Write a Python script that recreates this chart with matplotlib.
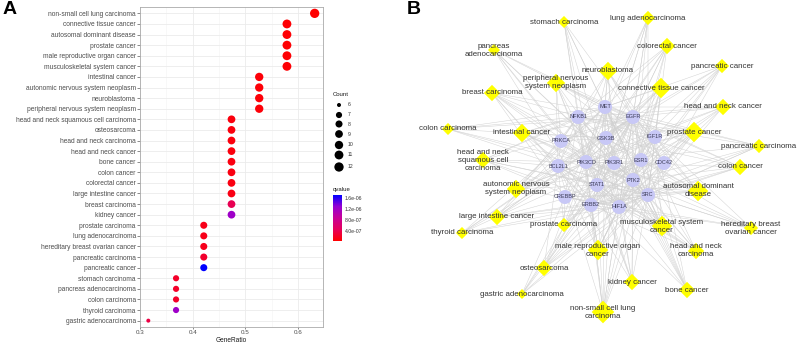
import matplotlib.pyplot as plt
from matplotlib.patches import Polygon, Circle
from matplotlib.colors import LinearSegmentedColormap, Normalize
from matplotlib.colorbar import ColorbarBase

plt.rcParams['font.family'] = ['Liberation Sans', 'DejaVu Sans']

# ---- data (panel A) ----
terms = ['non-small cell lung carcinoma', 'connective tissue cancer', 'autosomal dominant disease',
         'prostate cancer', 'male reproductive organ cancer', 'musculoskeletal system cancer',
         'intestinal cancer', 'autonomic nervous system neoplasm', 'neuroblastoma',
         'peripheral nervous system neoplasm', 'head and neck squamous cell carcinoma', 'osteosarcoma',
         'head and neck carcinoma', 'head and neck cancer', 'bone cancer', 'colon cancer',
         'colorectal cancer', 'large intestine cancer', 'breast carcinoma', 'kidney cancer',
         'prostate carcinoma', 'lung adenocarcinoma', 'hereditary breast ovarian cancer',
         'pancreatic carcinoma', 'pancreatic cancer', 'stomach carcinoma', 'pancreas adenocarcinoma',
         'colon carcinoma', 'thyroid carcinoma', 'gastric adenocarcinoma']
counts = [12, 11, 11, 11, 11, 11, 10, 10, 10, 10, 9, 9, 9, 9, 9, 9, 9, 9, 9, 9,
          8, 8, 8, 8, 8, 7, 7, 7, 7, 6]
qvalues = [4e-8, 6e-8, 6e-8, 5e-8, 5e-8, 6e-8, 8e-8, 8e-8, 8e-8, 8e-8,
           1.0e-7, 1.0e-7, 1.0e-7, 1.0e-7, 1.1e-7, 1.2e-7, 1.2e-7, 1.3e-7, 4.2e-7, 1.22e-6,
           1.6e-7, 1.6e-7, 1.7e-7, 2.5e-7, 1.71e-6, 2.3e-7, 2.3e-7, 2.3e-7, 1.22e-6, 3.5e-7]
n_genes = 19  # denominador del GeneRatio

# ---- data (panel B) ----
genes = ['MET', 'NFKB1', 'EGFR', 'PRKCA', 'GSK3B', 'IGF1R', 'BCL2L1', 'PIK3CD', 'PIK3R1',
         'ESR1', 'CDC42', 'STAT1', 'PTK2', 'SRC', 'CREBBP', 'ERBB2', 'HIF1A']
gene_x = [605, 578, 633, 561, 606, 655, 558, 586, 614, 641, 664, 597, 633, 648, 565, 591, 619]
gene_y = [107, 117, 117, 141, 138, 137, 166, 162, 163, 160, 163, 185, 180, 195, 197, 205, 207]

node_x = [603, 661, 698, 694, 598, 662, 522, 516, 608, 556, 483, 544, 696, 723, 687, 740,
          667, 497, 492, 632, 564, 648, 751, 759, 722, 564, 494, 448, 462, 522]
node_y = [312, 88, 191, 132, 250, 226, 133, 189, 71, 83, 160, 268, 251, 107, 290, 167,
          46, 217, 93, 282, 225, 18, 228, 146, 66, 22, 50, 129, 233, 294]
node_labels = ['non-small cell lung\ncarcinoma', 'connective tissue cancer', 'autosomal dominant\ndisease',
               'prostate cancer', 'male reproductive organ\ncancer', 'musculoskeletal system\ncancer',
               'intestinal cancer', 'autonomic nervous\nsystem neoplasm', 'neuroblastoma',
               'peripheral nervous\nsystem neoplasm', 'head and neck\nsquamous cell\ncarcinoma', 'osteosarcoma',
               'head and neck\ncarcinoma', 'head and neck cancer', 'bone cancer', 'colon cancer',
               'colorectal cancer', 'large intestine cancer', 'breast carcinoma', 'kidney cancer',
               'prostate carcinoma', 'lung adenocarcinoma', 'hereditary breast\novarian cancer',
               'pancreatic carcinoma', 'pancreatic cancer', 'stomach carcinoma', 'pancreas\nadenocarcinoma',
               'colon carcinoma', 'thyroid carcinoma', 'gastric adenocarcinoma']
# genes de cada enfermedad (mismo orden que terms)
term_genes = [
    'EGFR MET ERBB2 PIK3R1 PIK3CD SRC PTK2 IGF1R HIF1A STAT1 BCL2L1 NFKB1',
    'MET EGFR IGF1R SRC PTK2 PIK3CD PIK3R1 HIF1A BCL2L1 GSK3B ESR1',
    'EGFR MET ERBB2 CREBBP PIK3R1 PIK3CD ESR1 GSK3B SRC STAT1 IGF1R',
    'EGFR ERBB2 IGF1R ESR1 SRC PTK2 HIF1A NFKB1 PIK3CD CDC42 BCL2L1',
    'EGFR ERBB2 IGF1R ESR1 SRC PTK2 HIF1A NFKB1 PIK3CD CDC42 BCL2L1',
    'MET EGFR IGF1R SRC PTK2 PIK3CD PIK3R1 HIF1A BCL2L1 GSK3B STAT1',
    'EGFR MET ERBB2 PIK3CD PIK3R1 SRC PTK2 HIF1A GSK3B NFKB1',
    'MET EGFR IGF1R PIK3CD PIK3R1 STAT1 HIF1A BCL2L1 CDC42 PRKCA',
    'MET EGFR IGF1R PIK3CD PIK3R1 STAT1 HIF1A BCL2L1 CDC42 PRKCA',
    'MET EGFR IGF1R PIK3CD PIK3R1 STAT1 HIF1A BCL2L1 CDC42 PRKCA',
    'EGFR MET ERBB2 PIK3CD SRC STAT1 HIF1A BCL2L1 NFKB1',
    'MET EGFR IGF1R SRC PTK2 PIK3R1 HIF1A BCL2L1 GSK3B',
    'EGFR MET ERBB2 PIK3CD SRC STAT1 HIF1A BCL2L1 NFKB1',
    'EGFR MET ERBB2 PIK3CD SRC STAT1 HIF1A BCL2L1 NFKB1',
    'MET EGFR IGF1R SRC PTK2 PIK3R1 HIF1A BCL2L1 GSK3B',
    'EGFR MET ERBB2 PIK3CD SRC PTK2 HIF1A GSK3B NFKB1',
    'EGFR MET ERBB2 PIK3CD SRC PTK2 HIF1A GSK3B NFKB1',
    'EGFR MET ERBB2 PIK3CD SRC PTK2 HIF1A GSK3B NFKB1',
    'ESR1 ERBB2 EGFR IGF1R SRC PIK3CD PIK3R1 CREBBP BCL2L1',
    'MET EGFR HIF1A SRC PIK3CD PTK2 STAT1 BCL2L1 NFKB1',
    'EGFR ERBB2 IGF1R ESR1 SRC PIK3CD CREBBP BCL2L1',
    'EGFR MET ERBB2 PIK3CD SRC PTK2 STAT1 HIF1A',
    'ESR1 ERBB2 EGFR PIK3CD PIK3R1 CREBBP SRC BCL2L1',
    'EGFR MET ERBB2 PIK3CD SRC PTK2 HIF1A NFKB1',
    'EGFR MET ERBB2 PIK3R1 SRC PTK2 HIF1A GSK3B',
    'EGFR MET ERBB2 PIK3CD SRC HIF1A STAT1',
    'EGFR MET ERBB2 PIK3CD SRC PTK2 HIF1A',
    'EGFR MET PIK3CD SRC PTK2 GSK3B NFKB1',
    'MET EGFR PIK3CD PIK3R1 SRC BCL2L1 HIF1A',
    'EGFR MET ERBB2 SRC HIF1A STAT1',
]
# interacciones gen-gen: el primero conecta con el resto
gene_links = [
    'EGFR MET ERBB2 SRC PTK2 PIK3R1 PIK3CD STAT1 IGF1R ESR1 CDC42 PRKCA GSK3B NFKB1 HIF1A CREBBP BCL2L1',
    'SRC MET ERBB2 PTK2 PIK3R1 STAT1 IGF1R ESR1 CDC42 PRKCA HIF1A CREBBP NFKB1',
    'PIK3R1 MET ERBB2 PTK2 IGF1R ESR1 CDC42 PIK3CD GSK3B STAT1',
    'STAT1 NFKB1 CREBBP HIF1A ERBB2 MET ESR1',
    'HIF1A CREBBP NFKB1 GSK3B ESR1 BCL2L1 PIK3CD',
    'NFKB1 PRKCA BCL2L1 CREBBP GSK3B',
    'ESR1 IGF1R CREBBP GSK3B ERBB2',
    'PTK2 CDC42 PIK3CD MET IGF1R',
    'PRKCA GSK3B BCL2L1 PIK3CD',
    'MET PIK3CD GSK3B',
]

# escala de color tipo ggplot (rojo -> azul)
cmap = LinearSegmentedColormap.from_list(
    'qv', [(0, '#ff0000'), (0.25, '#e6005a'), (0.5, '#c80096'), (0.75, '#9600d2'), (1, '#0000ff')])
norm = Normalize(vmin=3.6e-8, vmax=1.71e-6)


def dot_area(c):
    d = 4 + 5.3 * ((c - 6) / 6) ** 0.5  # diametro en px
    return (d * 0.72) ** 2


fig = plt.figure(figsize=(7.97, 3.43), dpi=100)

# ---------------- Panel A ----------------
ax = fig.add_axes([140 / 797, 16 / 343, 183 / 797, 320 / 343])
ratios = [c / n_genes for c in counts]
ypos = list(range(len(terms)))
ax.scatter(ratios, ypos, s=[dot_area(c) for c in counts], c=qvalues, cmap=cmap, norm=norm,
           edgecolors='none', zorder=3)
ax.set_yticks(ypos)
ax.set_yticklabels(terms, fontsize=4.75, color='#4d4d4d')
ax.set_ylim(len(terms) - 0.4, -0.6)
ax.set_xlim(0.3, 0.6474)
ax.set_xticks([0.3, 0.4, 0.5, 0.6])
ax.set_xticklabels(['0.3', '0.4', '0.5', '0.6'], fontsize=4.5, color='#4d4d4d')
ax.set_xticks([0.35, 0.45, 0.55], minor=True)
ax.grid(which='major', color='#ebebeb', lw=0.6)
ax.grid(which='minor', axis='x', color='#f3f3f3', lw=0.4)
ax.set_axisbelow(True)
ax.tick_params(which='major', length=2, width=0.4, color='#333333', pad=1)
ax.tick_params(axis='x', which='major', length=1.5, pad=0.5)
ax.tick_params(which='minor', length=0)
for sp in ax.spines.values():
    sp.set_color('#aaaaaa')
    sp.set_linewidth(0.6)
# titulo del eje x colocado a mano para que no se corte
fig.text(231.5 / 797, 1 - 340 / 343, 'GeneRatio', fontsize=4.7, ha='center', va='center',
         color='#1a1a1a')

# leyendas
ov = fig.add_axes([0, 0, 1, 1])
ov.set_xlim(0, 797)
ov.set_ylim(343, 0)
ov.axis('off')
legend_counts = [6, 7, 8, 9, 10, 11, 12]
legend_y = [105, 115, 124, 134, 145, 155, 167]
ov.text(333, 95, 'Count', fontsize=4.3, va='center', color='#1a1a1a')
ov.scatter([339] * len(legend_counts), legend_y, s=[dot_area(c) for c in legend_counts],
           color='black', edgecolors='none')
for c, y in zip(legend_counts, legend_y):
    ov.text(348, y, str(c), fontsize=3.7, va='center', color='#333333')
ov.text(333, 189, 'qvalue', fontsize=4.3, va='center', color='#1a1a1a')

cax = fig.add_axes([333 / 797, 1 - 241 / 343, 9 / 797, 46 / 343])
cb = ColorbarBase(cax, cmap=cmap, norm=norm, ticks=[4e-7, 8e-7, 1.2e-6, 1.6e-6])
cb.set_ticklabels(['4.0e-07', '8.0e-07', '1.2e-06', '1.6e-06'])
cb.outline.set_visible(False)
cax.tick_params(length=0, pad=2, labelsize=3.7, labelcolor='#333333')

fig.text(3 / 797, 1 - 10 / 343, 'A', fontsize=14, fontweight='bold', va='center')

# ---------------- Panel B ----------------
bx = fig.add_axes([400 / 797, 0, 397 / 797, 1])
bx.set_xlim(400, 797)
bx.set_ylim(343, 0)
bx.axis('off')

gpos = {g: (x, y) for g, x, y in zip(genes, gene_x, gene_y)}

# lineas gen-gen
for line in gene_links:
    parts = line.split()
    for other in parts[1:]:
        x0, y0 = gpos[parts[0]]
        x1, y1 = gpos[other]
        bx.plot([x0, x1], [y0, y1], color='#d2d2d2', lw=0.35, zorder=1)

# lineas enfermedad-gen
for x, y, gl in zip(node_x, node_y, term_genes):
    for g in gl.split():
        gx, gy = gpos[g]
        bx.plot([x, gx], [y, gy], color='#d2d2d2', lw=0.35, zorder=1)

# nodos de genes
for g, x, y in zip(genes, gene_x, gene_y):
    bx.add_patch(Circle((x, y), 7, facecolor='#c8c8f6', edgecolor='none', zorder=2))
    bx.text(x, y, g, fontsize=4, ha='center', va='center', color='#3a3a55', zorder=4)

# nodos de enfermedades (rombos)
for x, y, lab, gl in zip(node_x, node_y, node_labels, term_genes):
    h = 5 + (len(gl.split()) - 6) * 1.05
    bx.add_patch(Polygon([(x - h, y), (x, y - h), (x + h, y), (x, y + h)], closed=True,
                         facecolor='#ffff00', edgecolor='none', zorder=3))
    bx.text(x, y, lab, fontsize=5.7, ha='center', va='center', multialignment='center',
            color='#333333', zorder=5)

fig.text(407 / 797, 1 - 10 / 343, 'B', fontsize=14, fontweight='bold', va='center')

fig.savefig('out.png', dpi=100)
